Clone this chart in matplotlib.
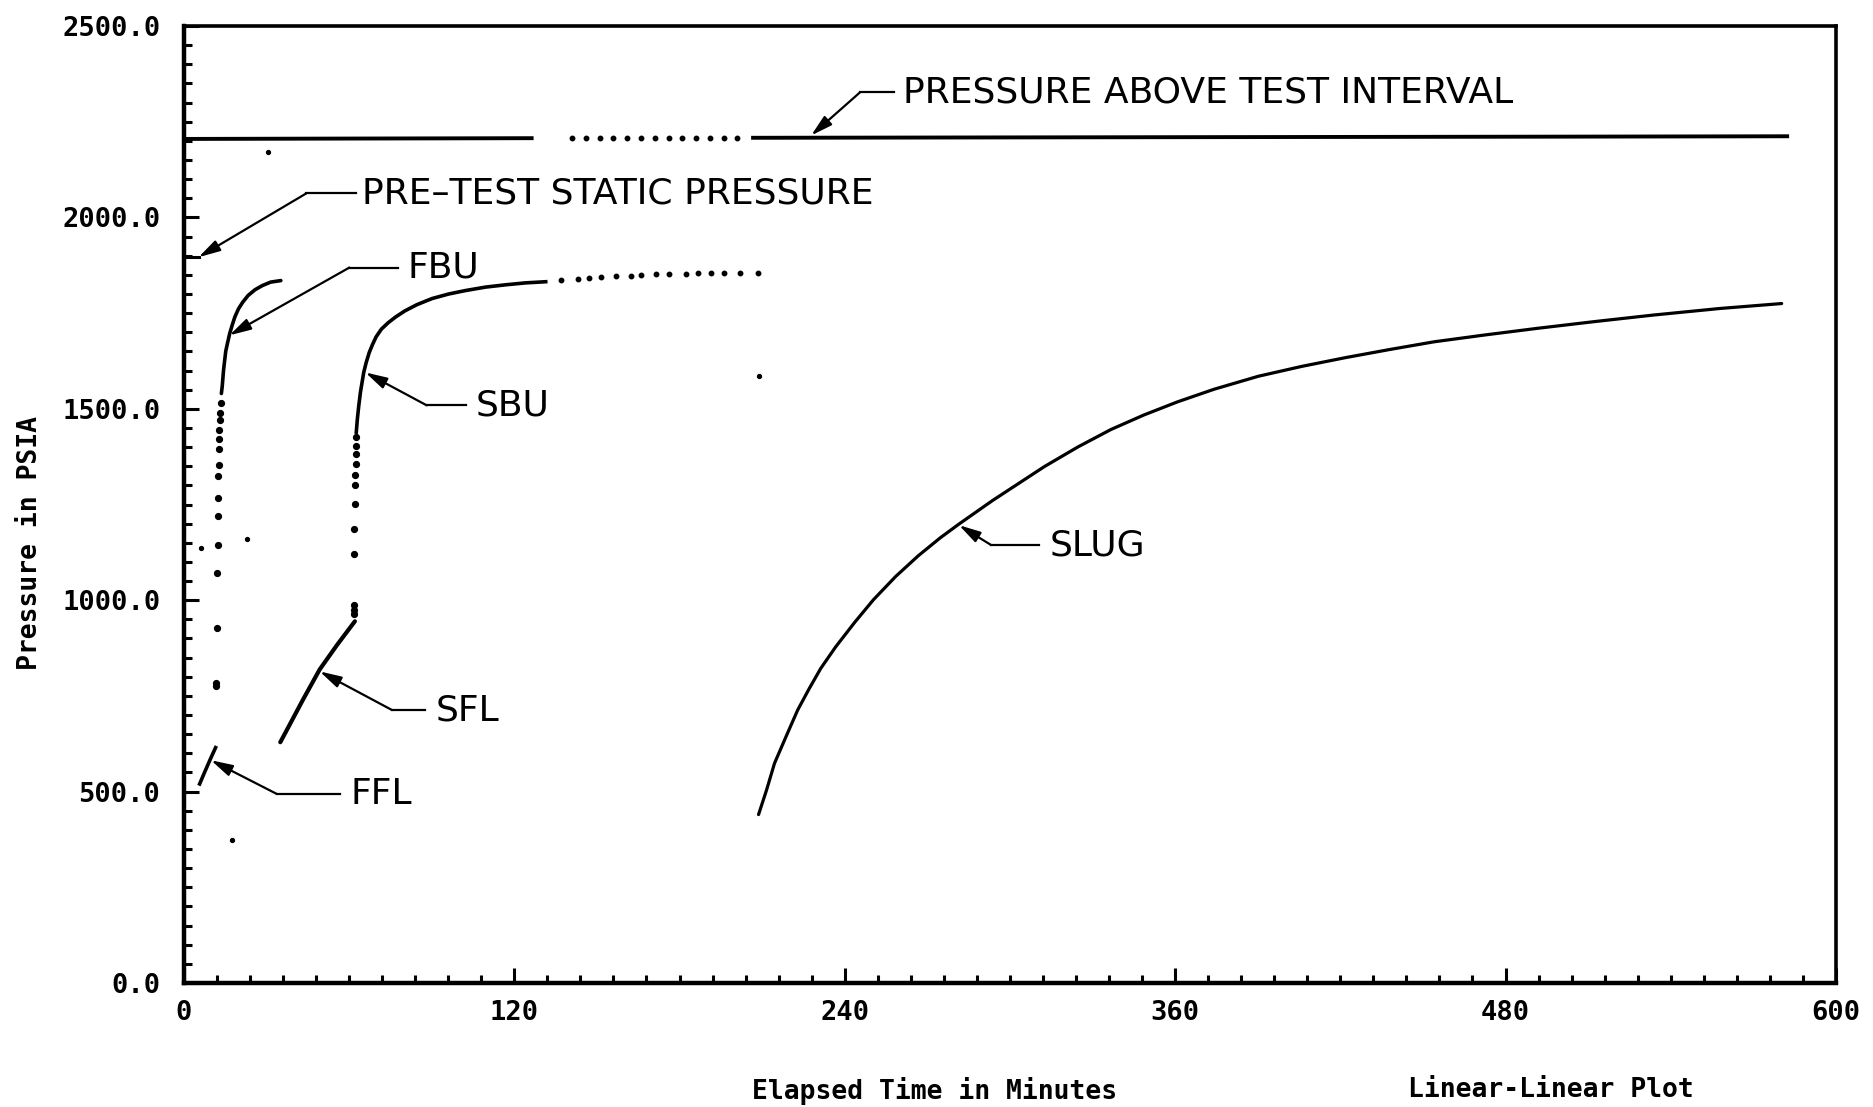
import matplotlib
matplotlib.use('Agg')
import matplotlib.pyplot as plt
from matplotlib.ticker import MultipleLocator

# --- data (minutes, psia) ---
above_t1 = [0, 60, 127]
above_p1 = [2205, 2206, 2207]
above_dots_t = [141, 146, 151, 156, 161, 166, 171, 176, 181, 186, 191, 196, 201]
above_dots_p = [2207, 2207, 2207, 2207, 2207, 2208, 2208, 2208, 2208, 2208, 2208, 2208, 2208]
above_t2 = [206, 300, 400, 500, 583]
above_p2 = [2208, 2209, 2210, 2211, 2212]

pretest_t = [0, 5.3]
pretest_p = [1896, 1896]

ffl_t = [5.7, 7.6, 9.6, 11.5]
ffl_p = [520, 552, 585, 615]

fbu_dots_t = [11.7, 11.7, 11.9, 12.1, 12.2, 12.3, 12.4, 12.5, 12.6, 12.7, 12.8, 12.9, 13.0, 13.1, 13.3]
fbu_dots_p = [776, 783, 927, 1070, 1143, 1221, 1268, 1325, 1354, 1394, 1422, 1445, 1471, 1488, 1514]
fbu_t = [13.6, 13.9, 14.4, 15.2, 15.9, 16.6, 17.5, 18.5, 19.8, 21.3, 23.3, 25.8, 28.5, 31.5, 35.2]
fbu_p = [1540, 1558, 1602, 1651, 1674, 1696, 1718, 1740, 1761, 1778, 1796, 1811, 1822, 1831, 1835]

sfl_t = [35.0, 37.9, 43.0, 49.3, 55.6, 62.1]
sfl_p = [629, 668, 737, 819, 883, 945]

sbu_dots_t = [61.6, 61.6, 61.6, 61.6, 61.8, 62.0, 62.2, 62.2, 62.4, 62.5, 62.6, 62.6]
sbu_dots_p = [964, 974, 987, 1122, 1185, 1252, 1302, 1328, 1356, 1382, 1404, 1426]
sbu_t = [62.6, 63.0, 63.5, 64.1, 64.7, 65.3, 66.2, 67.3, 68.5, 69.8, 71.7, 74.2,
         76.9, 80.3, 84.6, 90.1, 96.2, 102.3, 109.6, 116.9, 124.1, 131.4]
sbu_p = [1439, 1474, 1508, 1543, 1569, 1595, 1621, 1647, 1668, 1688, 1708, 1725,
         1740, 1756, 1772, 1788, 1800, 1809, 1818, 1824, 1829, 1832]
sbu_tail_t = [136.9, 143.0, 147.2, 151.5, 156.9, 162.4, 166.0, 171.5, 176.3, 182.4, 186.6, 191.5, 196.3, 201.8, 208.4]
sbu_tail_p = [1836, 1840, 1843, 1845, 1846, 1848, 1849, 1851, 1852, 1853, 1854, 1855, 1855, 1855, 1855]

slug_t = [208.7, 211.6, 214.5, 218.7, 222.9, 227.1, 231.3, 236.7, 243.6, 250.4,
          258.5, 266.7, 274.7, 281.5, 293.6, 312.5, 324.6, 336.7, 348.7, 360.8,
          374.1, 390.2, 406.1, 422.1, 438.0, 454.0, 472.6, 491.3, 512.5, 533.8,
          557.7, 580.3]
slug_p = [440, 504, 574, 644, 713, 769, 822, 878, 942, 1001,
          1062, 1116, 1163, 1199, 1260, 1349, 1400, 1446, 1484, 1518,
          1551, 1585, 1611, 1634, 1655, 1675, 1693, 1710, 1728, 1745,
          1762, 1775]

stray_t = [6.2, 23.0, 17.6, 30.6, 209.0]
stray_p = [1137, 1161, 373, 2172, 1587]

# labels: text, arrow tip, knee of leader, end of horizontal leader, text start
labels = ['PRESSURE ABOVE TEST INTERVAL', 'PRE\u2013TEST STATIC PRESSURE',
          'FBU', 'SBU', 'SFL', 'FFL', 'SLUG']
label_tip = [(227.8, 2214), (5.3, 1896), (16.5, 1692), (65.9, 1595),
             (49.3, 814), (9.8, 582), (281.5, 1196)]
label_knee = [(245.6, 2327), (44.5, 2063), (60.1, 1869), (88.2, 1509),
              (75.6, 713), (33.7, 494), (293.2, 1144)]
label_hend = [258.0, 62.5, 77.7, 102.4, 87.7, 56.7, 310.5]
label_text_t = [261.0, 64.5, 81.3, 106.1, 91.4, 60.4, 314.5]


def main():
    fig = plt.figure(figsize=(18.73, 11.07), dpi=100)
    ax = fig.add_axes([0.0982, 0.112, 0.882, 0.8645])
    k = 'black'

    ax.plot(above_t1, above_p1, color=k, lw=2.8, solid_capstyle='butt')
    ax.plot(above_dots_t, above_dots_p, 'o', color=k, ms=3.2)
    ax.plot(above_t2, above_p2, color=k, lw=2.8, solid_capstyle='butt')
    ax.plot(pretest_t, pretest_p, color=k, lw=2.2)

    ax.plot(ffl_t, ffl_p, color=k, lw=2.6)
    ax.plot(fbu_dots_t, fbu_dots_p, 'o', color=k, ms=4.2)
    ax.plot(fbu_t, fbu_p, color=k, lw=2.6, solid_capstyle='round', solid_joinstyle='round')
    ax.plot(sfl_t, sfl_p, color=k, lw=3.0, solid_capstyle='round')
    ax.plot(sbu_dots_t, sbu_dots_p, 'o', color=k, ms=4.2)
    ax.plot(sbu_t, sbu_p, color=k, lw=2.6, solid_joinstyle='round')
    ax.plot(sbu_tail_t, sbu_tail_p, 'o', color=k, ms=3.2)
    ax.plot(slug_t, slug_p, color=k, lw=2.3, solid_capstyle='round', solid_joinstyle='round')
    ax.plot(stray_t, stray_p, 'o', color=k, ms=2.8)

    for i, lab in enumerate(labels):
        tip = label_tip[i]
        knee = label_knee[i]
        ax.annotate('', xy=tip, xytext=knee,
                    arrowprops=dict(arrowstyle='-|>,head_length=1.3,head_width=0.35',
                                    color=k, lw=1.6, shrinkA=0, shrinkB=0))
        ax.plot([knee[0], label_hend[i]], [knee[1], knee[1]], color=k, lw=1.6)
        ax.text(label_text_t[i], knee[1], lab, fontsize=26, family='DejaVu Sans',
                ha='left', va='center', color=k)

    ax.set_xlim(0, 600)
    ax.set_ylim(0, 2500)
    ax.xaxis.set_major_locator(MultipleLocator(120))
    ax.xaxis.set_minor_locator(MultipleLocator(12))
    ax.yaxis.set_major_locator(MultipleLocator(500))
    ax.yaxis.set_minor_locator(MultipleLocator(50))
    ax.yaxis.set_major_formatter(plt.FormatStrFormatter('%.1f'))
    ax.xaxis.set_major_formatter(plt.FormatStrFormatter('%d'))

    ax.tick_params(which='both', direction='in', top=False, right=False, color=k, width=2.2)
    ax.tick_params(which='major', length=11)
    ax.tick_params(which='minor', length=5.5)
    ax.tick_params(axis='y', which='major', pad=17)
    ax.tick_params(axis='x', which='major', pad=12)
    for lab in ax.get_xticklabels() + ax.get_yticklabels():
        lab.set_family('DejaVu Sans Mono')
        lab.set_fontweight('bold')
        lab.set_fontsize(19.5)

    ax.spines['left'].set_linewidth(3.2)
    ax.spines['bottom'].set_linewidth(3.2)
    ax.spines['top'].set_linewidth(2.6)
    ax.spines['right'].set_linewidth(2.6)

    fig.text(0.4992, 0.0149, 'Elapsed Time in Minutes', ha='center', va='center',
             family='DejaVu Sans Mono', fontweight='bold', fontsize=19)
    fig.text(0.016, 0.5095, 'Pressure in PSIA', ha='center', va='center', rotation=90,
             family='DejaVu Sans Mono', fontweight='bold', fontsize=19)
    fig.text(0.7517, 0.004, 'Linear-Linear Plot', ha='left', va='bottom',
             family='DejaVu Sans Mono', fontweight='bold', fontsize=19)

    fig.savefig('out.png', dpi=100, facecolor='white')


if __name__ == "__main__":
    main()
